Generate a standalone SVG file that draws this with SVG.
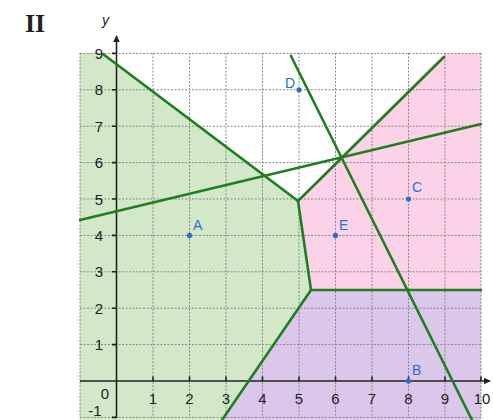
<svg xmlns="http://www.w3.org/2000/svg" width="493" height="420" viewBox="0 0 493 420">
<style>
.grid{stroke:#888;stroke-width:1;stroke-dasharray:2 1.5;fill:none}
.axis{stroke:#222;stroke-width:1.6;fill:none}
.edge{stroke:#1f7f1f;stroke-width:2.6;fill:none;stroke-linecap:round}
.num{font-family:"Liberation Sans",Arial,sans-serif;font-size:15px;fill:#222;text-anchor:middle}
.lbl{font-family:"Liberation Sans",Arial,sans-serif;font-size:14px;fill:#2a6fd0}
.pt{fill:#2a6fd0}
</style>
<defs>
<marker id="arr" viewBox="0 0 10 10" refX="9" refY="5" markerWidth="7" markerHeight="7" orient="auto" markerUnits="userSpaceOnUse">
<path d="M0,0 L10,5 L0,10 z" fill="#222"/>
</marker>
</defs>
<rect width="493" height="420" fill="#fff"/>
<text x="25" y="32" font-family="Liberation Serif,serif" font-weight="bold" font-size="26" fill="#222">II</text>
<g id="regions">
<polygon points="80,53 103,53 298,201 311,290 222,420 80,420" fill="#d2e8c8"/>
<polygon points="445,53 481,53 481,290 311,290 298,201 340,157" fill="#fbd2e8"/>
<polygon points="311,290 481,290 481,420 222,420" fill="#dac7ea"/>
</g>
<g id="grid" class="grid">
<path d="M80,53V418M116.5,53V418M153,53V418M189.5,53V418M226,53V418M262.5,53V418M299,53V418M335.5,53V418M372,53V418M408.5,53V418M445,53V418M481,53V418"/>
<path d="M80,53.4H481M80,89.8H481M80,126.2H481M80,162.6H481M80,199H481M80,235.4H481M80,271.8H481M80,308.2H481M80,344.6H481M80,417.4H481"/>
</g>
<g id="axes">
<line class="axis" x1="80" y1="381" x2="490" y2="381" marker-end="url(#arr)"/>
<line class="axis" x1="116.5" y1="418" x2="116.5" y2="36" marker-end="url(#arr)"/>
<path class="axis" d="M112,53.4h4.5M112,89.8h4.5M112,126.2h4.5M112,162.6h4.5M112,199h4.5M112,235.4h4.5M112,271.8h4.5M112,308.2h4.5M112,344.6h4.5M112,417.4h4.5M153,381v-4.5M189.5,381v-4.5M226,381v-4.5M262.5,381v-4.5M299,381v-4.5M335.5,381v-4.5M372,381v-4.5M408.5,381v-4.5M445,381v-4.5M481,381v-4.5"/>
<text x="102" y="25" font-family="Liberation Sans,sans-serif" font-style="italic" font-size="14" fill="#222">y</text>
<text class="num" x="99" y="59">9</text>
<text class="num" x="99" y="95">8</text>
<text class="num" x="99" y="132">7</text>
<text class="num" x="99" y="168">6</text>
<text class="num" x="99" y="205">5</text>
<text class="num" x="99" y="241">4</text>
<text class="num" x="99" y="277">3</text>
<text class="num" x="99" y="314">2</text>
<text class="num" x="99" y="350">1</text>
<text class="num" x="105" y="399">0</text>
<text class="num" x="95" y="416">-1</text>
<text class="num" x="153" y="404">1</text>
<text class="num" x="189.5" y="404">2</text>
<text class="num" x="226" y="404">3</text>
<text class="num" x="262.5" y="404">4</text>
<text class="num" x="299" y="404">5</text>
<text class="num" x="335.5" y="404">6</text>
<text class="num" x="372" y="404">7</text>
<text class="num" x="408.5" y="404">8</text>
<text class="num" x="445" y="404">9</text>
<text class="num" x="482" y="404">10</text>
</g>
<g id="connectors">
<polyline class="edge" points="103,54 298,201 311,290 481,290"/>
<line class="edge" x1="311" y1="290" x2="222" y2="420"/>
<line class="edge" x1="291" y1="56" x2="472" y2="420"/>
<line class="edge" x1="298" y1="201" x2="444" y2="57"/>
<line class="edge" x1="80" y1="220" x2="481" y2="124"/>
</g>
<g id="A"><circle class="pt" cx="189.5" cy="235.4" r="2.6"/><text class="lbl" x="193" y="230">A</text></g>
<g id="B"><circle class="pt" cx="408.5" cy="381" r="2.6"/><text class="lbl" x="412" y="375">B</text></g>
<g id="C"><circle class="pt" cx="408.5" cy="199" r="2.6"/><text class="lbl" x="412" y="192">C</text></g>
<g id="D"><circle class="pt" cx="299" cy="89.8" r="2.6"/><text class="lbl" x="285" y="88">D</text></g>
<g id="E"><circle class="pt" cx="335.5" cy="235.4" r="2.6"/><text class="lbl" x="339" y="230">E</text></g>
</svg>
